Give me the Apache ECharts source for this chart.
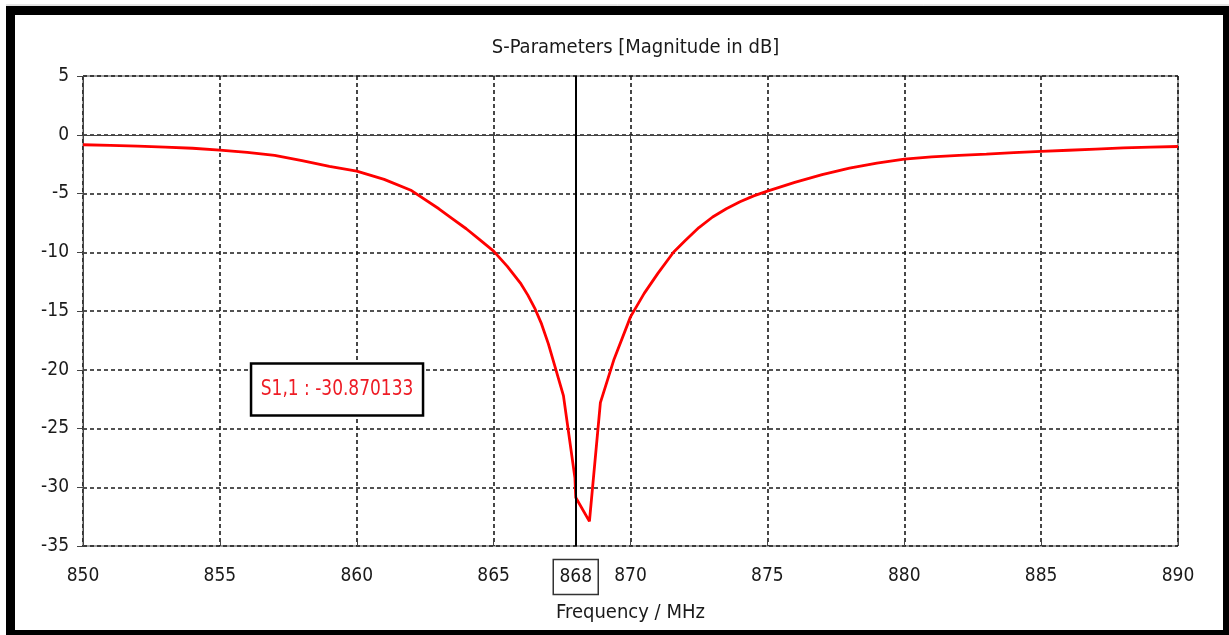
<!DOCTYPE html>
<html>
<head>
<meta charset="utf-8">
<title>S-Parameters [Magnitude in dB]</title>
<script src="https://cdn.jsdelivr.net/npm/echarts@6/dist/echarts.min.js"></script>
<style>
  html, body { margin: 0; padding: 0; background: #ffffff; }
  #chart { width: 1229px; height: 635px; }
</style>
</head>
<body>
<div id="chart"></div>
<script>
// Frequency sweep (MHz) and |S1,1| in dB
const freqMHz = [
  850, 851, 852, 853, 854, 855, 856, 857, 858, 859,
  860, 861, 862, 863, 863.5, 864, 864.5, 865, 865.5, 866,
  866.25, 866.5, 866.75, 867, 867.25, 867.55, 867.97, 868, 868.5, 868.9,
  869.4, 870, 870.5, 871, 871.57, 872, 872.5, 873, 873.5, 874,
  874.5, 875, 876, 877, 878, 879, 880, 881, 882, 883,
  884, 885, 886, 887, 888, 889, 890
];
const s11dB = [
  -0.85, -0.9, -0.97, -1.05, -1.15, -1.3, -1.5, -1.75, -2.2, -2.7,
  -3.1, -3.8, -4.75, -6.3, -7.15, -8.0, -8.95, -9.9, -11.2, -12.7,
  -13.65, -14.75, -16.1, -17.8, -19.8, -22.2, -29.2, -30.870133, -32.9, -22.8,
  -19.1, -15.5, -13.5, -11.8, -10.0, -9.0, -7.9, -7.0, -6.3, -5.7,
  -5.2, -4.8, -4.05, -3.4, -2.85, -2.42, -2.08, -1.88, -1.75, -1.65,
  -1.52, -1.42, -1.32, -1.22, -1.12, -1.05, -1.0
];

// Axis ranges and tick step
const xRange = [850, 890];
const yRange = [-35, 5];
const tickStep = 5;

// Marker frequency and where its readout box sits (data coordinates)
const markerFreq = 868;
const readoutAnchor = [859.28, -21.68];

const FONT = '"DejaVu Sans Condensed", "DejaVu Sans", sans-serif';
const TEXT = '#1a1a1a';

const markerIdx = freqMHz.indexOf(markerFreq);
const markerValue = s11dB[markerIdx];
const readoutText = 'S1,1 : ' + markerValue.toFixed(6);

const chart = echarts.init(document.getElementById('chart'), null, { renderer: 'canvas' });

const gridSplit = {
  show: true,
  lineStyle: { color: '#1a1a1a', width: 1.6, type: [4, 3] }
};

const option = {
  animation: false,
  backgroundColor: '#ffffff',
  title: {
    text: 'S-Parameters [Magnitude in dB]',
    left: 630.5,
    top: 33,
    textAlign: 'center',
    textStyle: { fontFamily: FONT, fontSize: 20, fontWeight: 'normal', color: TEXT }
  },
  grid: {
    left: 83, right: 51, top: 76, bottom: 89,
    show: true, borderColor: '#444', borderWidth: 1, backgroundColor: '#fff'
  },
  xAxis: [
    {
      type: 'value',
      min: xRange[0], max: xRange[1], interval: tickStep,
      name: 'Frequency / MHz',
      nameLocation: 'middle',
      nameGap: 57,
      nameTextStyle: { fontFamily: FONT, fontSize: 20, color: TEXT },
      axisLine: { show: true, lineStyle: { color: '#444', width: 1 } },
      axisTick: { show: true, length: 6, lineStyle: { color: '#444' } },
      axisLabel: { fontFamily: FONT, fontSize: 19, color: TEXT, margin: 21 },
      splitLine: gridSplit
    },
    {
      // inward half of the crossing tick marks
      type: 'value', position: 'bottom',
      min: xRange[0], max: xRange[1], interval: tickStep,
      axisLine: { show: false },
      axisTick: { show: true, inside: true, length: 6, lineStyle: { color: '#444' } },
      axisLabel: { show: false },
      splitLine: { show: false }
    }
  ],
  yAxis: {
    type: 'value',
    min: yRange[0], max: yRange[1], interval: tickStep,
    axisLine: { show: true, lineStyle: { color: '#444', width: 1 } },
    axisTick: { show: true, length: 6, lineStyle: { color: '#444' } },
    axisLabel: { fontFamily: FONT, fontSize: 19, color: TEXT, margin: 14 },
    splitLine: gridSplit
  },
  series: [{
    name: 'S1,1',
    type: 'line',
    xAxisIndex: 0,
    data: freqMHz.map((f, i) => [f, s11dB[i]]),
    showSymbol: false,
    smooth: false,
    lineStyle: { color: '#ff0000', width: 2.8 },
    z: 3,
    markLine: {
      silent: true,
      symbol: ['none', 'none'],
      label: { show: false },
      lineStyle: { color: '#000', width: 2, type: 'solid' },
      data: [{ xAxis: markerFreq }],
      z: 4
    }
  }]
};

chart.setOption(option);

// Marker readouts: value box inside the plot and the frequency box on the axis
const anchorPx = chart.convertToPixel({ gridIndex: 0 }, readoutAnchor);
const markerPx = chart.convertToPixel({ gridIndex: 0 }, [markerFreq, yRange[0]]);

chart.setOption({
  graphic: [
    {
      type: 'rect',
      shape: { x: 10.5, y: 10.5, width: 1217, height: 624 },
      style: { fill: 'none', stroke: '#000', lineWidth: 9 },
      z: 100
    },
    {
      type: 'line',
      shape: { x1: 6, y1: 5, x2: 1229, y2: 5 },
      style: { stroke: '#c8c8c8', lineWidth: 1 },
      z: 100
    },
    {
      type: 'rect',
      shape: { x: anchorPx[0] - 86, y: anchorPx[1] - 26, width: 172, height: 52 },
      style: { fill: '#fff', stroke: '#000', lineWidth: 2.5 },
      z: 50
    },
    {
      type: 'text',
      x: anchorPx[0], y: anchorPx[1],
      scaleX: 0.86,
      style: {
        text: readoutText, fill: '#ee1c25',
        font: '22px ' + FONT, align: 'center', verticalAlign: 'middle'
      },
      z: 51
    },
    {
      type: 'rect',
      shape: { x: markerPx[0] - 22.5, y: 559.5, width: 45, height: 35 },
      style: { fill: '#fff', stroke: '#333', lineWidth: 1.5 },
      z: 50
    },
    {
      type: 'text',
      x: markerPx[0], y: 577.5,
      style: {
        text: String(markerFreq), fill: TEXT,
        font: '19px ' + FONT, align: 'center', verticalAlign: 'middle'
      },
      z: 51
    }
  ]
});
</script>
</body>
</html>
